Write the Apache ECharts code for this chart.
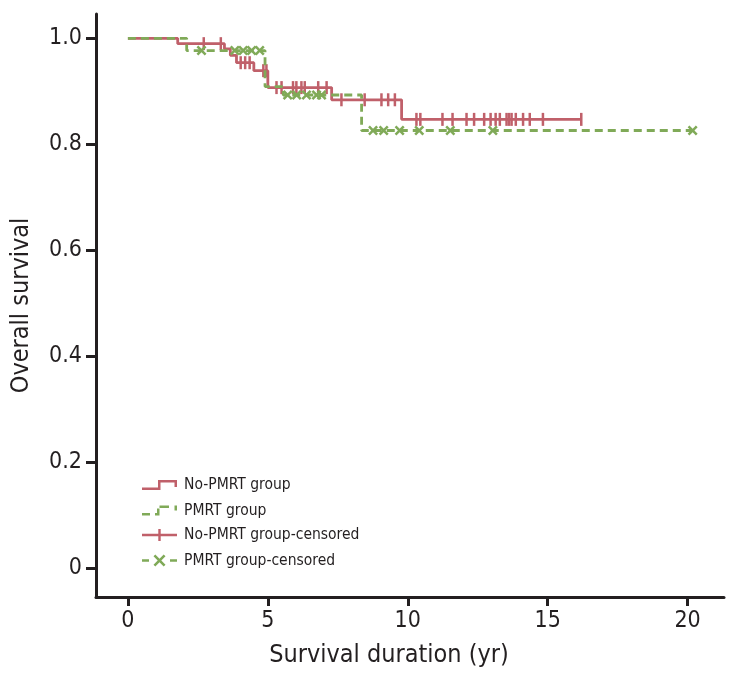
<!DOCTYPE html>
<html><head><meta charset="utf-8">
<script src="https://cdn.jsdelivr.net/npm/echarts@6/dist/echarts.min.js"></script>
<style>html,body{margin:0;padding:0;background:#fff}#c{width:739px;height:679px}</style>
</head><body><div id="c"></div>
<script>
// ---- data ----
const xTicks = [0, 5, 10, 15, 20];
const yTicks = [0, 0.2, 0.4, 0.6, 0.8, 1.0];
const noPmrtTimes = [0, 1.78, 3.45, 3.66, 3.88, 4.5, 5.0, 7.28, 9.78, 16.2];
const noPmrtSurv  = [1.0, 0.990, 0.980, 0.968, 0.954, 0.939, 0.907, 0.884, 0.847, 0.847];
const noPmrtCensored = [2.71, 3.32, 4.03, 4.19, 4.35, 4.84, 4.95, 5.31, 5.49, 5.9, 6.02, 6.2, 6.32, 6.8, 7.1,
  7.63, 8.46, 9.06, 9.3, 9.54, 10.31, 10.45, 11.24, 11.6, 12.1, 12.37, 12.73, 12.96, 13.14, 13.29,
  13.53, 13.62, 13.71, 13.86, 14.12, 14.36, 14.83, 16.2];
const pmrtTimes = [0, 2.1, 4.9, 5.55, 8.35, 20.18];
const pmrtSurv  = [1.0, 0.977, 0.909, 0.893, 0.826, 0.826];
const pmrtCensored = [2.63, 3.82, 4.12, 4.42, 4.71, 5.71, 6.03, 6.38, 6.74, 6.92, 8.76, 9.14, 9.71,
  10.41, 11.52, 13.04, 20.18];

// ---- helpers ----
function survAt(times, surv, t) {
  let v = surv[0];
  for (let i = 0; i < times.length; i++) { if (times[i] <= t) v = surv[i]; }
  return v;
}
const FONT = "'Liberation Sans Narrow','DejaVu Sans Condensed','Roboto Condensed','Liberation Sans',sans-serif";
const RED = '#c0606a', GREEN = '#80aa58', AX = '#231f20';

const redStepIcon = 'path://M0,7.5H18.5V10H0Z M16,0H18.5V10H16Z M16,0H35V2.5H16Z M32.5,0H35V7H32.5Z';
const greenStepIcon = 'path://M0,7.5H8V10H0Z M13,7.5H17.5V10H13Z M15,3H17.5V10H15Z M17.5,0H27V2.5H17.5Z M32.5,0H35V5H32.5Z';
const redCensIcon = 'path://M0,4.8H35V7.2H0Z M16.3,0H18.7V12H16.3Z';
const greenCensIcon = 'path://M0,4.8H7V7.2H0Z M28,4.8H35V7.2H28Z M11.5,1.8L13.3,0L17.5,4.2L21.7,0L23.5,1.8L19.3,6L23.5,10.2L21.7,12L17.5,7.8L13.3,12L11.5,10.2L15.7,6Z';
const xSymbol = 'path://M0,1.8L1.8,0L5,3.2L8.2,0L10,1.8L6.8,5L10,8.2L8.2,10L5,6.8L1.8,10L0,8.2L3.2,5Z';

const chart = echarts.init(document.getElementById('c'), null, {renderer: 'canvas'});
const legendText = {fontFamily: FONT, fontSize: 15.5, color: AX, padding: [0, 0, 0, 2]};
chart.setOption({
  animation: false,
  backgroundColor: '#fff',
  grid: {left: 96, right: 15, top: 14, bottom: 82},
  legend: [
    {orient: 'vertical', left: 137, top: 472, itemWidth: 35, itemHeight: 10, itemGap: 9.5, selectedMode: false,
     textStyle: legendText,
     data: [
       {name: 'No-PMRT group', icon: redStepIcon, itemStyle: {color: RED, borderWidth: 0, opacity: 1}},
       {name: 'PMRT group', icon: greenStepIcon, itemStyle: {color: GREEN, borderWidth: 0, opacity: 1}}
     ]},
    {orient: 'vertical', left: 137, top: 522, itemWidth: 35, itemHeight: 12, itemGap: 9.5, selectedMode: false,
     textStyle: legendText,
     data: [
       {name: 'No-PMRT group-censored', icon: redCensIcon, itemStyle: {color: RED, borderWidth: 0, opacity: 1}},
       {name: 'PMRT group-censored', icon: greenCensIcon, itemStyle: {color: GREEN, borderWidth: 0, opacity: 1}}
     ]}
  ],
  xAxis: {
    type: 'value', min: -1.14, max: 21.3,
    name: 'Survival duration (yr)', nameLocation: 'middle', nameGap: 46,
    nameTextStyle: {fontFamily: FONT, fontSize: 25, color: AX, padding: [0, 42, 0, 0]},
    axisLine: {show: true, onZero: false, lineStyle: {color: AX, width: 3}},
    axisTick: {show: true, length: 9, lineStyle: {color: AX, width: 3}, customValues: xTicks},
    axisLabel: {fontFamily: FONT, fontSize: 23, color: AX, margin: 13, customValues: xTicks,
      formatter: v => String(v)},
    splitLine: {show: false}
  },
  yAxis: {
    type: 'value', min: -0.055, max: 1.046,
    name: 'Overall survival', nameLocation: 'middle', nameGap: 62, nameRotate: 90,
    nameTextStyle: {fontFamily: FONT, fontSize: 25, color: AX},
    axisLine: {show: true, onZero: false, lineStyle: {color: AX, width: 3}},
    axisTick: {show: true, length: 10, lineStyle: {color: AX, width: 3}, customValues: yTicks},
    axisLabel: {fontFamily: FONT, fontSize: 23, color: AX, margin: 14, customValues: yTicks,
      formatter: v => (v === 0 ? '0' : v.toFixed(1))},
    splitLine: {show: false}
  },
  series: [
    {name: 'No-PMRT group', type: 'line', step: 'end', symbol: 'none',
     lineStyle: {color: RED, width: 2.8}, itemStyle: {color: RED},
     data: noPmrtTimes.map((t, i) => [t, noPmrtSurv[i]]), z: 2},
    {name: 'No-PMRT group-censored', type: 'scatter', symbol: 'rect', symbolSize: [2.5, 13],
     itemStyle: {color: RED, opacity: 1}, data: noPmrtCensored.map(t => [t, survAt(noPmrtTimes, noPmrtSurv, t)]), z: 3},
    {name: 'PMRT group', type: 'line', step: 'end', symbol: 'none',
     lineStyle: {color: GREEN, width: 2.8, type: [8, 5]}, itemStyle: {color: GREEN},
     data: pmrtTimes.map((t, i) => [t, pmrtSurv[i]]), z: 4},
    {name: 'PMRT group-censored', type: 'scatter', symbol: xSymbol, symbolSize: 10,
     itemStyle: {color: GREEN, opacity: 1}, data: pmrtCensored.map(t => [t, survAt(pmrtTimes, pmrtSurv, t)]), z: 5}
  ]
});
</script></body></html>
